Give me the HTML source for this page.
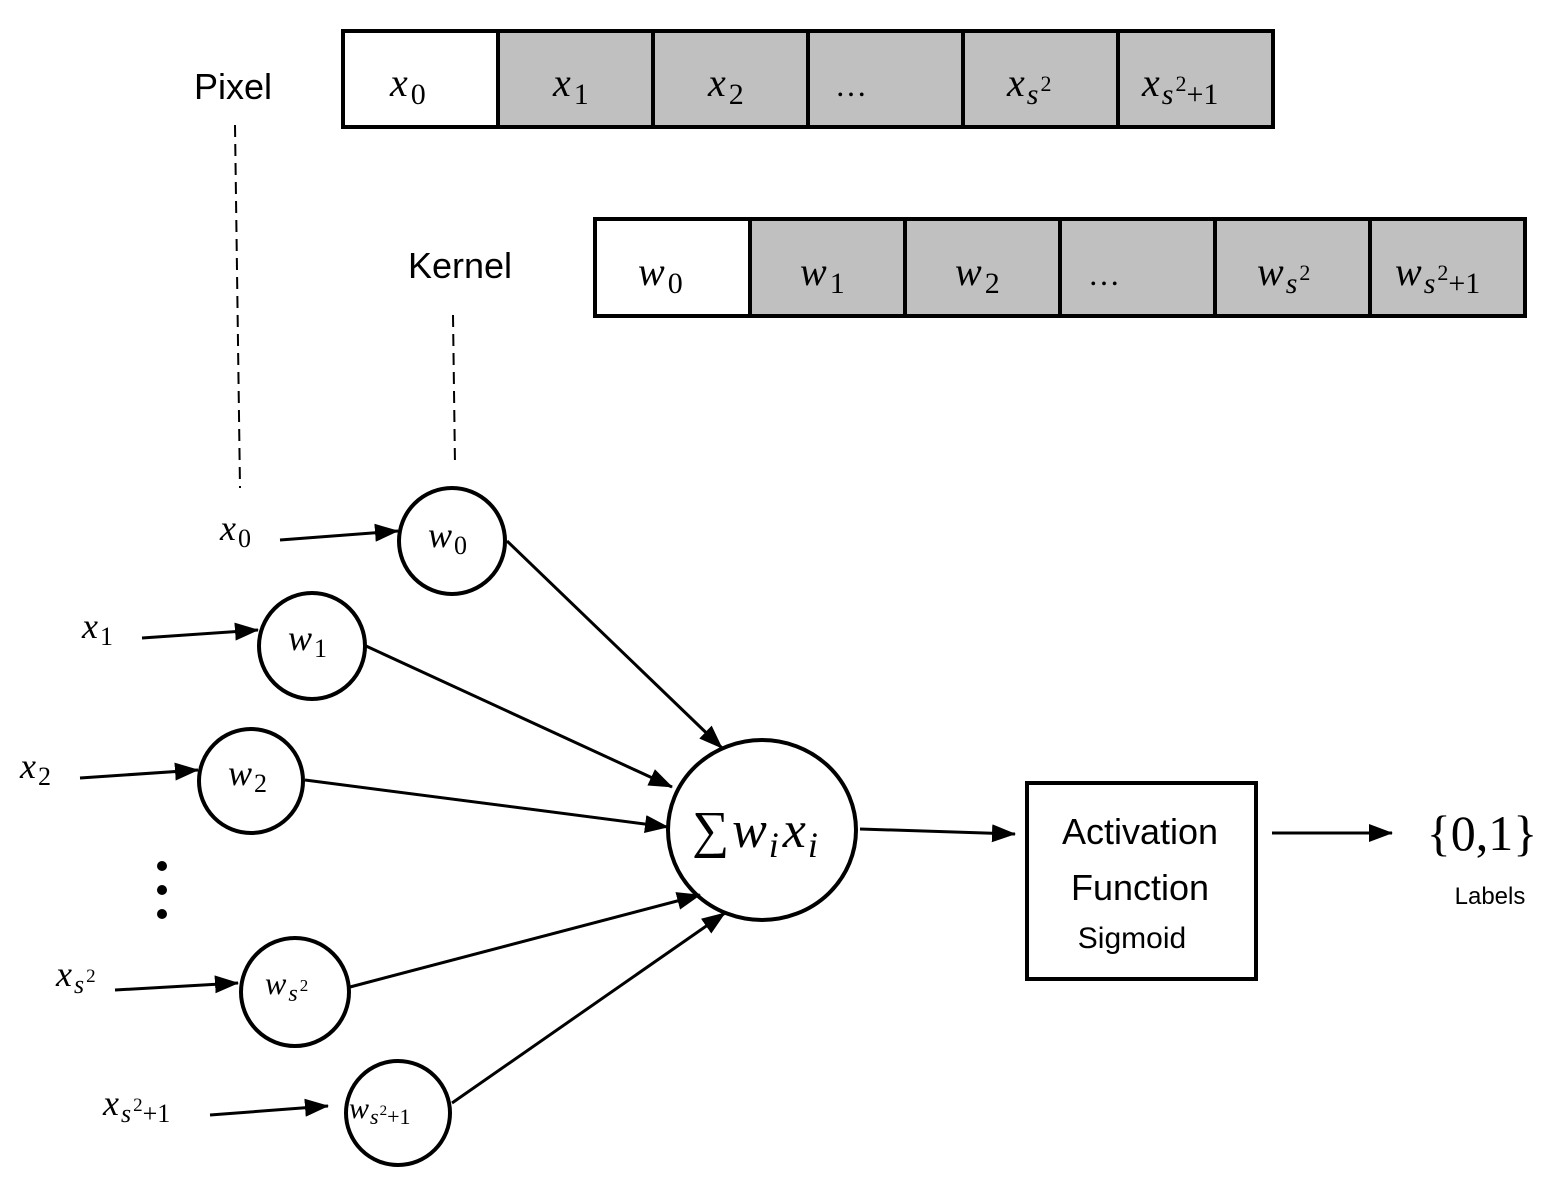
<!DOCTYPE html>
<html><head><style>
html,body{margin:0;padding:0;background:#fff;}
svg{display:block;}
.m{font-family:"Liberation Serif",serif;font-style:italic;}
.s{font-family:"Liberation Sans",sans-serif;}
</style></head><body>
<svg width="1564" height="1201" viewBox="0 0 1564 1201" xmlns="http://www.w3.org/2000/svg">
<defs>
<marker id="a" markerWidth="24" markerHeight="18" refX="23" refY="9" orient="auto" markerUnits="userSpaceOnUse"><path d="M0,0 L24,9 L0,18 z" fill="#000"/></marker>
</defs>
<g stroke="#000" stroke-width="4">
<rect x="343" y="31" width="155" height="96" fill="#fff"/>
<rect x="498" y="31" width="775" height="96" fill="#c0c0c0"/>
<line x1="653" y1="31" x2="653" y2="127"/><line x1="808" y1="31" x2="808" y2="127"/>
<line x1="963" y1="31" x2="963" y2="127"/><line x1="1118" y1="31" x2="1118" y2="127"/>
<rect x="595" y="219" width="155" height="97" fill="#fff"/>
<rect x="750" y="219" width="775" height="97" fill="#c0c0c0"/>
<line x1="905" y1="219" x2="905" y2="316"/><line x1="1060" y1="219" x2="1060" y2="316"/>
<line x1="1215" y1="219" x2="1215" y2="316"/><line x1="1370" y1="219" x2="1370" y2="316"/>
</g>
<g class="m" font-size="40" fill="#000">
<text x="390" y="96">x<tspan font-style="normal" font-size="30" dx="3" dy="8">0</tspan></text>
<text x="553" y="96">x<tspan font-style="normal" font-size="30" dx="3" dy="8">1</tspan></text>
<text x="708" y="96">x<tspan font-style="normal" font-size="30" dx="3" dy="8">2</tspan></text>
<text x="835" y="96" font-style="normal" font-size="32">…</text>
<text x="1007" y="96">x<tspan font-size="30" dx="2" dy="8">s</tspan><tspan font-style="normal" font-size="22" dx="2" dy="-13">2</tspan></text>
<text x="1142" y="96">x<tspan font-size="30" dx="2" dy="8">s</tspan><tspan font-style="normal" font-size="22" dx="2" dy="-13">2</tspan><tspan font-style="normal" font-size="30" dy="13">+1</tspan></text>
<text x="638" y="285">w<tspan font-style="normal" font-size="30" dx="3" dy="8">0</tspan></text>
<text x="800" y="285">w<tspan font-style="normal" font-size="30" dx="3" dy="8">1</tspan></text>
<text x="955" y="285">w<tspan font-style="normal" font-size="30" dx="3" dy="8">2</tspan></text>
<text x="1088" y="285" font-style="normal" font-size="32">…</text>
<text x="1257" y="285">w<tspan font-size="30" dx="2" dy="8">s</tspan><tspan font-style="normal" font-size="22" dx="2" dy="-13">2</tspan></text>
<text x="1395" y="285">w<tspan font-size="30" dx="2" dy="8">s</tspan><tspan font-style="normal" font-size="22" dx="2" dy="-13">2</tspan><tspan font-style="normal" font-size="30" dy="13">+1</tspan></text>
</g>
<text class="s" x="233" y="99" font-size="36" text-anchor="middle">Pixel</text>
<text class="s" x="460" y="278" font-size="36" text-anchor="middle">Kernel</text>
<g stroke="#000" stroke-width="2" stroke-dasharray="12,7">
<line x1="235" y1="125" x2="240" y2="488"/>
<line x1="453" y1="315" x2="455" y2="465"/>
</g>
<g stroke="#000" stroke-width="4" fill="#fff">
<circle cx="452" cy="541" r="53"/>
<circle cx="312" cy="646" r="53"/>
<circle cx="251" cy="781" r="52"/>
<circle cx="295" cy="992" r="54"/>
<circle cx="398" cy="1113" r="52"/>
<ellipse cx="762" cy="830" rx="94" ry="90"/>
<rect x="1027" y="783" width="229" height="196"/>
</g>
<g stroke="#000" stroke-width="3" marker-end="url(#a)">
<line x1="280" y1="540" x2="398" y2="531"/>
<line x1="142" y1="638" x2="258" y2="630"/>
<line x1="80" y1="778" x2="198" y2="770"/>
<line x1="115" y1="990" x2="238" y2="983"/>
<line x1="210" y1="1115" x2="328" y2="1106"/>
<line x1="507" y1="541" x2="722" y2="748"/>
<line x1="366" y1="646" x2="672" y2="787"/>
<line x1="305" y1="780" x2="668" y2="827"/>
<line x1="350" y1="987" x2="700" y2="895"/>
<line x1="452" y1="1103" x2="725" y2="913"/>
<line x1="860" y1="829" x2="1015" y2="834"/>
<line x1="1272" y1="833" x2="1392" y2="833"/>
</g>
<g fill="#000"><circle cx="162" cy="866" r="5"/><circle cx="162" cy="890" r="5"/><circle cx="162" cy="914" r="5"/></g>
<g class="m" fill="#000" font-size="36">
<text x="220" y="540">x<tspan font-style="normal" font-size="26" dx="2" dy="7">0</tspan></text>
<text x="82" y="638">x<tspan font-style="normal" font-size="26" dx="2" dy="7">1</tspan></text>
<text x="20" y="778">x<tspan font-style="normal" font-size="26" dx="2" dy="7">2</tspan></text>
<text x="56" y="986">x<tspan font-size="26" dx="2" dy="7">s</tspan><tspan font-style="normal" font-size="19" dx="2" dy="-11">2</tspan></text>
<text x="103" y="1115">x<tspan font-size="26" dx="2" dy="7">s</tspan><tspan font-style="normal" font-size="19" dx="2" dy="-11">2</tspan><tspan font-style="normal" font-size="26" dy="11">+1</tspan></text>
<text x="428" y="547">w<tspan font-style="normal" font-size="26" dx="2" dy="7">0</tspan></text>
<text x="288" y="650">w<tspan font-style="normal" font-size="26" dx="2" dy="7">1</tspan></text>
<text x="228" y="785">w<tspan font-style="normal" font-size="26" dx="2" dy="7">2</tspan></text>
<text x="265" y="994" font-size="32">w<tspan font-size="24" dx="2" dy="7">s</tspan><tspan font-style="normal" font-size="17" dx="2" dy="-10">2</tspan></text>
<text x="349" y="1118" font-size="30">w<tspan font-size="22" dx="1" dy="6">s</tspan><tspan font-style="normal" font-size="15" dx="1" dy="-9">2</tspan><tspan font-style="normal" font-size="22" dy="9">+1</tspan></text>
<text x="692" y="847" font-size="52"><tspan font-style="normal">∑</tspan><tspan dx="3">w</tspan><tspan font-size="36" dx="2" dy="10">i</tspan><tspan dx="4" dy="-10">x</tspan><tspan font-size="36" dx="2" dy="10">i</tspan></text>
<text x="1482" y="850" font-style="normal" font-size="50" text-anchor="middle">{0,1}</text>
</g>
<g class="s" fill="#000" text-anchor="middle">
<text x="1140" y="844" font-size="36">Activation</text>
<text x="1140" y="900" font-size="36">Function</text>
<text x="1132" y="948" font-size="30">Sigmoid</text>
<text x="1490" y="904" font-size="24">Labels</text>
</g>
</svg>
</body></html>
